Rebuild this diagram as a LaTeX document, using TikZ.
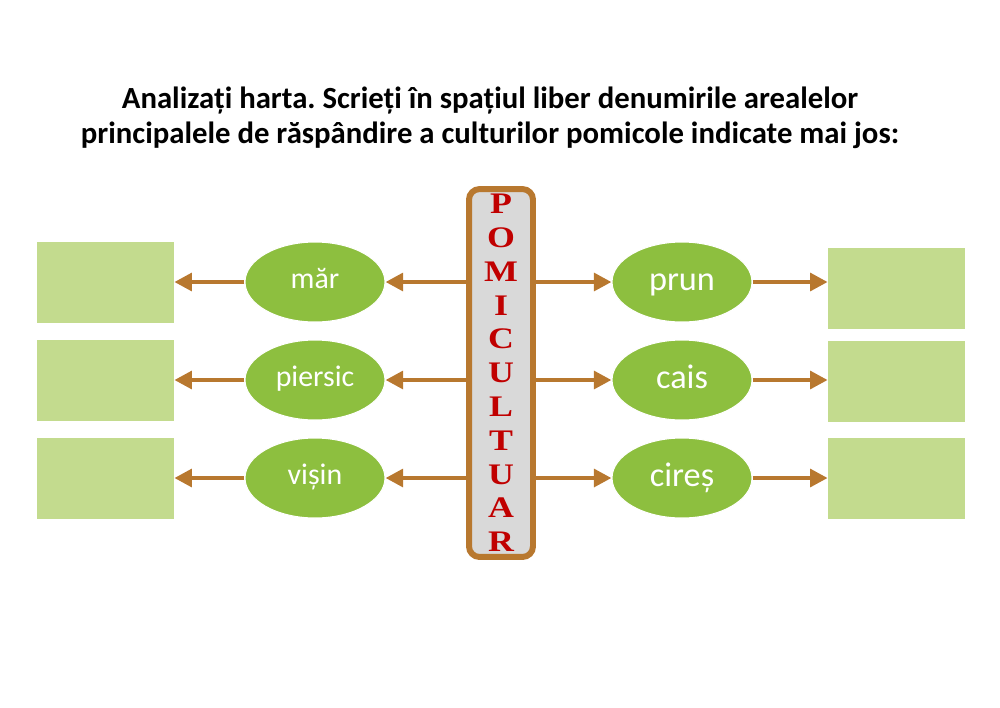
\documentclass[tikz,border=0pt]{standalone}
\usepackage{fontspec}
\setmainfont{Carlito}
\newfontfamily\letterfont[FakeStretch=1.2]{Liberation Serif}
\usetikzlibrary{arrows.meta,shapes.geometric,positioning,calc}
\definecolor{brownline}{HTML}{B8782F}
\definecolor{leafgreen}{HTML}{8DBF3F}
\definecolor{palegreen}{HTML}{C3DB8E}
\definecolor{greyfill}{HTML}{D9D9D9}
\definecolor{letterred}{HTML}{C00000}
\frenchspacing

\begin{document}
\begin{tikzpicture}[x=0.02cm,y=-0.02cm,
    fruit/.style={ellipse,fill=leafgreen,draw=white,line width=0.6pt,minimum width=2.8cm,minimum height=1.6cm,
      text=white,text height=9pt,text depth=1.2pt,font=\fontsize{17}{18}\selectfont},
    bigfruit/.style={fruit,text height=10.6pt,text depth=1.4pt,font=\fontsize{19.5}{22}\selectfont},
    area/.style={rectangle,fill=palegreen,minimum width=2.74cm,minimum height=1.62cm},
    link/.style={draw=brownline,line width=2.4pt,-{Triangle[length=10pt,width=10pt]}},
    letter/.style={text=letterred,font=\letterfont\bfseries\fontsize{17}{18}\selectfont,inner sep=0pt,
      text height=11pt,text depth=0pt}]
  \useasboundingbox (0,0) rectangle (1000,707);

  % title
  \node[font=\bfseries\fontsize{17.5}{20}\selectfont,align=center] (title) at (490,118)
    {Analizați harta. Scrieți în spațiul liber denumirile arealelor\\
     principalele de răspândire a culturilor pomicole indicate mai jos:};

  % central column
  \node[draw=brownline,fill=greyfill,line width=3.4pt,rounded corners=6pt,
        minimum width=1.28cm,minimum height=7.36cm] (column) at (501,373) {};
  \foreach \ch [count=\i from 0] in {P,O,M,I,C,U,L,T,U,A,R}{
    \node[letter] (let\i) at ($(501,204)+(0,33.8*\i)$) {\ch};
  }

  % fruit trees
  \node[fruit] (mar) at (315,282) {măr};
  \node[fruit] (piersic) at (315,380) {piersic};
  \node[fruit] (visin) at (315,478) {vișin};
  \node[bigfruit] (prun) at (682,282) {prun};
  \node[bigfruit] (cais) at (682,380) {cais};
  \node[bigfruit] (cires) at (682,478) {cireș};

  % empty answer boxes
  \node[area] (areaL1) at (105.5,282) {};
  \node[area] (areaL2) at (105.5,380) {};
  \node[area] (areaL3) at (105.5,478) {};
  \node[area] (areaR1) at (896.5,288) {};
  \node[area] (areaR2) at (896.5,381) {};
  \node[area] (areaR3) at (896.5,478) {};

  % arrows
  \draw[link] (column.west |- mar) -- (mar.east);
  \draw[link] (column.west |- piersic) -- (piersic.east);
  \draw[link] (column.west |- visin) -- (visin.east);
  \draw[link] (column.east |- prun) -- (prun.west);
  \draw[link] (column.east |- cais) -- (cais.west);
  \draw[link] (column.east |- cires) -- (cires.west);
  \draw[link] (mar.west) -- (mar -| areaL1.east);
  \draw[link] (piersic.west) -- (piersic -| areaL2.east);
  \draw[link] (visin.west) -- (visin -| areaL3.east);
  \draw[link] (prun.east) -- (prun -| areaR1.west);
  \draw[link] (cais.east) -- (cais -| areaR2.west);
  \draw[link] (cires.east) -- (cires -| areaR3.west);
\end{tikzpicture}
\end{document}
